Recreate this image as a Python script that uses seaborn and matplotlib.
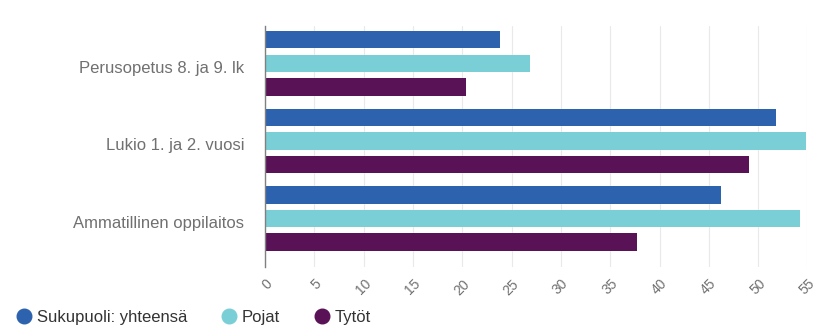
import matplotlib
matplotlib.use("Agg")
import matplotlib.pyplot as plt
import matplotlib.transforms as mtransforms
import seaborn as sns
import pandas as pd
from matplotlib.lines import Line2D

categories = ["Perusopetus 8. ja 9. lk", "Lukio 1. ja 2. vuosi", "Ammatillinen oppilaitos"]
series = ["Sukupuoli: yhteensä", "Pojat", "Tytöt"]
yhteensa = [23.8, 51.8, 46.2]
pojat = [26.9, 54.8, 54.2]
tytot = [20.4, 49.1, 37.7]
x_ticks = [0, 5, 10, 15, 20, 25, 30, 35, 40, 45, 50, 55]
colors = ["#2D62AE", "#7ACFD7", "#5A1257"]

rows = []
for name, vals in zip(series, [yhteensa, pojat, tytot]):
    for cat, v in zip(categories, vals):
        rows.append({"kategoria": cat, "sarja": name, "arvo": v})
df = pd.DataFrame(rows)

sns.set_theme(style="white")
plt.rcParams["font.family"] = ["Liberation Sans", "DejaVu Sans"]

fig = plt.figure(figsize=(8.31, 3.32), dpi=100)
ax = fig.add_axes([0.3189, 0.1958, 0.9717 - 0.3189, 0.9217 - 0.1958])

sns.barplot(data=df, y="kategoria", x="arvo", hue="sarja", order=categories,
            hue_order=series, palette=colors, orient="h", width=0.909, gap=0.256,
            saturation=1, legend=False, ax=ax, linewidth=0)

ax.set_xlim(0, 55)
ax.set_ylim(2.625, -0.48)
ax.set_xticks(x_ticks)
ax.set_xticklabels([str(t) for t in x_ticks], rotation=45, ha="right",
                   rotation_mode="anchor", color="#707070", fontsize=10)
ax.tick_params(axis="x", length=0, pad=7)
ax.tick_params(axis="y", length=10, width=0.8, color="#e6e9f0", pad=5,
               labelcolor="#707070", labelsize=12)
# category labels sit slightly below the group centre
shift = mtransforms.ScaledTranslation(0, -3.5 / 100, fig.dpi_scale_trans)
for lbl in ax.get_yticklabels():
    lbl.set_transform(lbl.get_transform() + shift)
ax.set_xlabel("")
ax.set_ylabel("")
ax.grid(axis="x", color="#e9e9e9", linewidth=0.8)
ax.set_axisbelow(True)
for s in ["top", "right", "bottom"]:
    ax.spines[s].set_visible(False)
ax.spines["left"].set_color("#808080")
ax.spines["left"].set_linewidth(1.0)

handles = [Line2D([0], [0], marker="o", linestyle="", markersize=10.5,
                  markerfacecolor=c, markeredgecolor=c) for c in colors]
fig.legend(handles, series, loc="lower left", bbox_to_anchor=(-0.0096, -0.024),
           ncol=3, frameon=False, fontsize=12, handletextpad=-0.2,
           columnspacing=1.48, labelcolor="#333333")

fig.savefig("out.png", dpi=100)
